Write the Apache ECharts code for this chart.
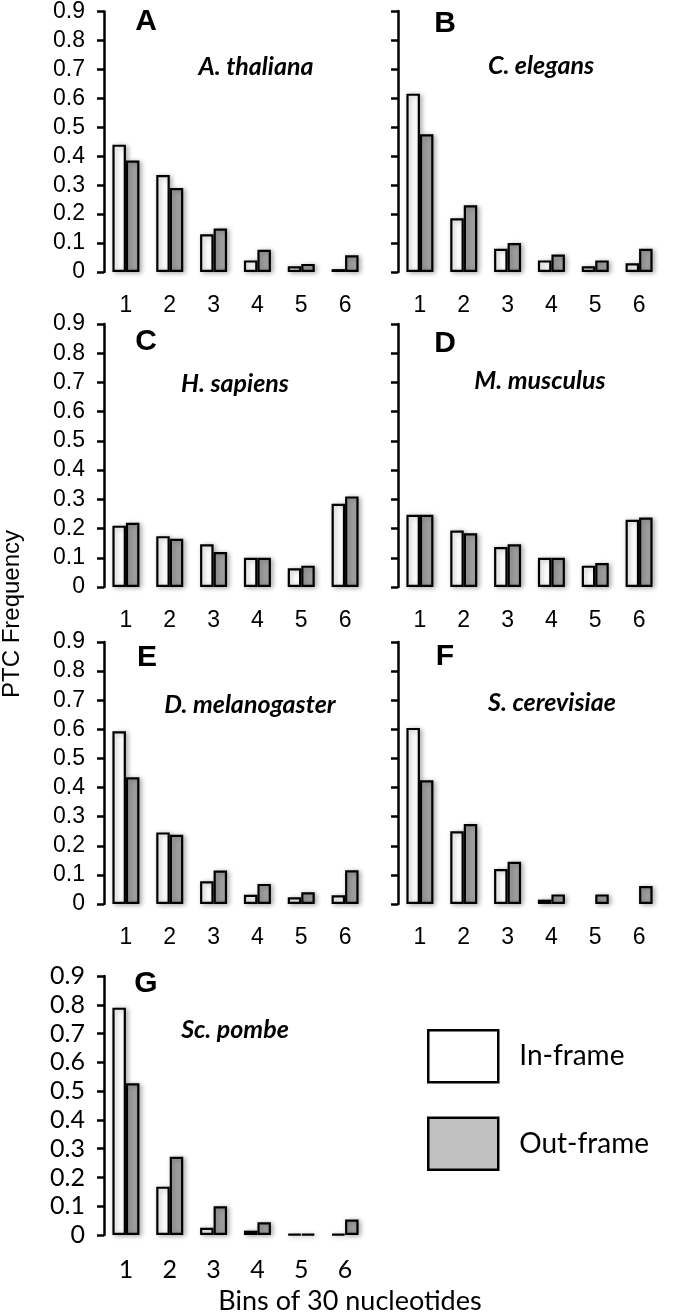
<!DOCTYPE html>
<html>
<head>
<meta charset="utf-8">
<script src="https://cdn.jsdelivr.net/npm/echarts@6/dist/echarts.min.js"></script>
<style>
html,body{margin:0;padding:0;background:#fff;}
#chart{width:677px;height:1314px;}
</style>
</head>
<body>
<div id="chart"></div>
<script>
// ---- data ----
const categories = ['1', '2', '3', '4', '5', '6'];
const yTicks = [0, 0.1, 0.2, 0.3, 0.4, 0.5, 0.6, 0.7, 0.8, 0.9];
const seriesNames = ['In-frame', 'Out-frame'];
const panelLetters = ['A', 'B', 'C', 'D', 'E', 'F', 'G'];
const species = ['A. thaliana', 'C. elegans', 'H. sapiens', 'M. musculus', 'D. melanogaster', 'S. cerevisiae', 'Sc. pombe'];

const inA = [0.44, 0.335, 0.13, 0.04, 0.02, 0.01];
const outA = [0.385, 0.29, 0.15, 0.077, 0.028, 0.058];
const inB = [0.615, 0.185, 0.08, 0.04, 0.02, 0.03];
const outB = [0.475, 0.23, 0.1, 0.06, 0.04, 0.08];
const inC = [0.21, 0.174, 0.146, 0.1, 0.064, 0.285];
const outC = [0.22, 0.165, 0.12, 0.1, 0.073, 0.31];
const inD = [0.247, 0.193, 0.137, 0.1, 0.073, 0.23];
const outD = [0.247, 0.184, 0.146, 0.1, 0.082, 0.238];
const inE = [0.593, 0.246, 0.078, 0.032, 0.023, 0.03];
const outE = [0.435, 0.238, 0.115, 0.069, 0.04, 0.116];
const inF = [0.605, 0.25, 0.12, 0.015, 0, 0];
const outF = [0.425, 0.275, 0.145, 0.033, 0.033, 0.062];
const inG = [0.79, 0.168, 0.025, 0.015, 0.003, 0.003];
const outG = [0.527, 0.272, 0.1, 0.044, 0.003, 0.054];

const inSets = [inA, inB, inC, inD, inE, inF, inG];
const outSets = [outA, outB, outC, outD, outE, outF, outG];

// ---- layout ----
const colLeft = [104, 398];
const gridW = 263;
const rowTop = [11, 324, 642, 976];
const rowH = [261, 263, 262, 259];

const ARIAL = 'Liberation Sans, Arial, sans-serif';
const CAL = 'Lato, sans-serif';

const grids = [], xAxes = [], yAxes = [], series = [], graphics = [];

for (let i = 0; i < 7; i++) {
  const col = i % 2, row = Math.floor(i / 2);
  const left = colLeft[col], top = rowTop[row], h = rowH[row];
  const isG = i === 6;
  const labFont = isG ? CAL : ARIAL;
  const labSize = isG ? 25 : 23;
  grids.push({ left: left, top: top, width: gridW, height: h, containLabel: false });
  xAxes.push({
    type: 'category', gridIndex: i, data: categories,
    axisLine: { show: false }, axisTick: { show: false },
    axisLabel: { color: '#000', fontFamily: labFont, fontSize: labSize, margin: 22 }
  });
  yAxes.push({
    type: 'value', gridIndex: i, min: 0, max: 0.9, interval: 0.1,
    splitLine: { show: false },
    axisLine: { show: true, lineStyle: { color: '#000', width: 2.5 } },
    axisTick: { show: true, length: 7, lineStyle: { color: '#000', width: 2.5 } },
    axisLabel: {
      show: col === 0, color: '#000', fontFamily: labFont, fontSize: labSize, margin: 19,
      formatter: v => (v === 0 ? '0' : v.toFixed(1))
    }
  });
  const mk = arr => arr.map(v => (v === 0 ? { value: 0, itemStyle: { borderWidth: 0, shadowBlur: 0 } } : v));
  series.push({
    name: seriesNames[0], type: 'bar', xAxisIndex: i, yAxisIndex: i,
    data: mk(inSets[i]), barWidth: 13.5, barGap: '0%',
    itemStyle: { color: '#ffffff', borderColor: '#000', borderWidth: 2.2,
      shadowBlur: 5, shadowColor: 'rgba(0,0,0,0.3)', shadowOffsetX: 2, shadowOffsetY: 1 },
    emphasis: { disabled: true }, silent: true
  });
  series.push({
    name: seriesNames[1], type: 'bar', xAxisIndex: i, yAxisIndex: i,
    data: mk(outSets[i]), barWidth: 13.5, barGap: '0%',
    itemStyle: { color: '#a0a0a0', borderColor: '#000', borderWidth: 2.2,
      shadowBlur: 5, shadowColor: 'rgba(0,0,0,0.3)', shadowOffsetX: 2, shadowOffsetY: 1 },
    emphasis: { disabled: true }, silent: true
  });
}

// panel letters and species labels
const letterPos = [[146, 22], [445, 24], [146, 342], [445, 344], [147, 658], [445, 657], [146, 984]];
const speciesPos = [[256, 67], [541, 66], [235, 384], [540, 381], [250, 705], [552, 703], [235, 1030]];
for (let i = 0; i < 7; i++) {
  graphics.push({
    type: 'text', x: letterPos[i][0], y: letterPos[i][1],
    style: { text: panelLetters[i], font: 'bold 30px ' + ARIAL, fill: '#000', textAlign: 'center', textVerticalAlign: 'middle' }
  });
  graphics.push({
    type: 'text', x: speciesPos[i][0], y: speciesPos[i][1],
    style: { text: species[i], font: 'italic bold 25px ' + CAL, fill: '#000', textAlign: 'center', textVerticalAlign: 'middle' }
  });
}
// axis titles
graphics.push({
  type: 'text', x: 12, y: 614, rotation: Math.PI / 2,
  style: { text: 'PTC Frequency', font: '24px ' + ARIAL, fill: '#000', textAlign: 'center', textVerticalAlign: 'middle' }
});
graphics.push({
  type: 'text', x: 350, y: 1301,
  style: { text: 'Bins of 30 nucleotides', font: '27px ' + CAL, fill: '#000', textAlign: 'center', textVerticalAlign: 'middle' }
});

const chart = echarts.init(document.getElementById('chart'), null, { renderer: 'canvas' });
chart.setOption({
  animation: false,
  backgroundColor: '#fff',
  grid: grids, xAxis: xAxes, yAxis: yAxes, series: series,
  legend: {
    orient: 'vertical', left: 422, top: 1024, itemWidth: 70, itemHeight: 52, itemGap: 33,
    icon: 'rect', selectedMode: false,
    textStyle: { fontFamily: CAL, fontSize: 28, color: '#000', padding: [0, 0, 0, 16] },
    data: [
      { name: seriesNames[0], itemStyle: { color: '#ffffff', borderColor: '#000', borderWidth: 2.5, shadowBlur: 0 } },
      { name: seriesNames[1], itemStyle: { color: '#c0c0c0', borderColor: '#000', borderWidth: 2.5, shadowBlur: 0 } }
    ]
  },
  graphic: graphics
});
</script>
</body>
</html>
